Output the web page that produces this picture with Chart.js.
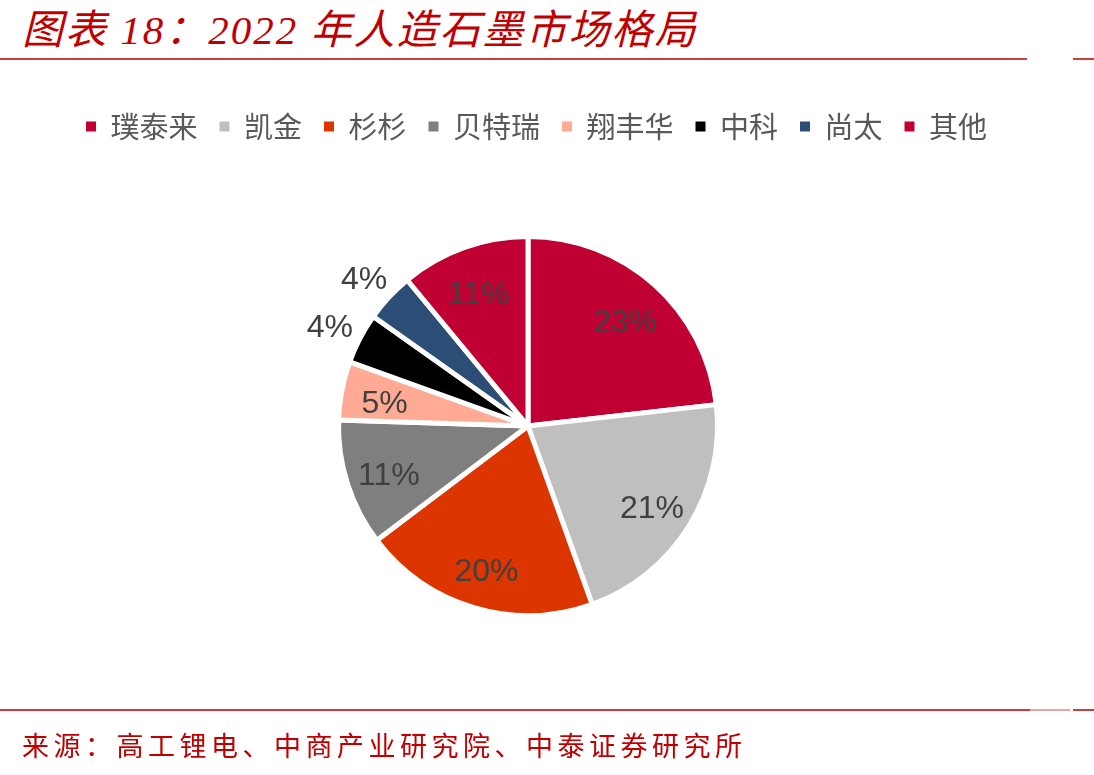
<!DOCTYPE html>
<html>
<head>
<meta charset="utf-8">
<script src="https://cdn.jsdelivr.net/npm/chart.js@4/dist/chart.umd.min.js"></script>
<style>
  body { margin: 0; background: #fff; }
  #page { position: relative; width: 1094px; height: 775px; overflow: hidden; }
  #title {
    position: absolute; left: 22px; top: 5px;
    font-family: "Liberation Serif", "Noto Sans CJK SC", serif;
    font-style: italic; font-size: 41px; line-height: 50px; letter-spacing: 2px;
    color: #C00000; white-space: nowrap;
  }
  #source {
    position: absolute; left: 22px; top: 727px;
    font-family: "Noto Sans CJK SC", sans-serif;
    font-size: 27px; line-height: 36px; letter-spacing: 4.5px;
    color: #C00000; white-space: nowrap;
  }
  .rule { position: absolute; height: 2px; background: #C8403F; }
  #chartBox { position: absolute; left: 0; top: 0; width: 1094px; height: 775px; }
</style>
</head>
<body>
<div id="page">
  <div id="title">图表 18：2022 年人造石墨市场格局</div>
  <div class="rule" style="left:0;top:58px;width:1027px;"></div>
  <div class="rule" style="left:1073px;top:58px;width:21px;"></div>
  <div id="chartBox"><canvas id="pie"></canvas></div>
  <div class="rule" style="left:0;top:709px;width:1030px;"></div>
  <div class="rule" style="left:1030px;top:709px;width:40px;background:#E8A6A4;"></div>
  <div class="rule" style="left:1073px;top:709px;width:21px;"></div>
  <div id="source">来源：高工锂电、中商产业研究院、中泰证券研究所</div>
</div>
<script>
// 2022 年人造石墨市场份额（%）
const companies = ['璞泰来', '凯金', '杉杉', '贝特瑞', '翔丰华', '中科', '尚太', '其他'];
const shares = [23.2, 21.3, 20.2, 10.8, 5.0, 4.3, 4.2, 11.0];
const colors = ['#C00032', '#BFBFBF', '#DC3500', '#7F7F7F', '#FFAA95', '#000000', '#2C4D75', '#C00032'];

// 饼图的位置
const PIE_CX = 528;
const PIE_CY = 426;
const PIE_SIZE = 384;

const placePie = {
    id: 'placePie',
    afterLayout(chart) {
        const a = chart.chartArea;
        a.left = PIE_CX - PIE_SIZE / 2;
        a.right = PIE_CX + PIE_SIZE / 2;
        a.top = PIE_CY - PIE_SIZE / 2;
        a.bottom = PIE_CY + PIE_SIZE / 2;
        a.width = PIE_SIZE;
        a.height = PIE_SIZE;
    }
};

// 百分比标签
const pctLabels = {
    id: 'pctLabels',
    afterDatasetsDraw(chart) {
        const ctx = chart.ctx;
        const meta = chart.getDatasetMeta(0);
        ctx.save();
        ctx.font = '32px "Liberation Sans", Arial, sans-serif';
        ctx.fillStyle = '#404040';
        ctx.textAlign = 'center';
        ctx.textBaseline = 'middle';
        meta.data.forEach((arc, i) => {
            const p = arc.getProps(['x', 'y', 'startAngle', 'endAngle', 'outerRadius'], true);
            const mid = (p.startAngle + p.endAngle) / 2;
            const outside = shares[i] < 4.5;
            const r = outside ? p.outerRadius + 34 : p.outerRadius * 0.77;
            const dy = outside ? 6 : 6;
            ctx.fillText(Math.round(shares[i]) + '%', p.x + Math.cos(mid) * r, p.y + Math.sin(mid) * r + dy);
        });
        ctx.restore();
    }
};

new Chart(document.getElementById('pie'), {
    type: 'pie',
    data: {
        labels: companies,
        datasets: [{
            data: shares,
            backgroundColor: colors,
            borderColor: '#ffffff',
            borderWidth: 5
        }]
    },
    options: {
        responsive: true,
        maintainAspectRatio: false,
        animation: false,
        layout: { padding: { top: 90, left: 0, right: 21, bottom: 0 } },
        plugins: {
            legend: {
                position: 'top',
                labels: {
                    boxWidth: 10,
                    boxHeight: 10,
                    padding: 22,
                    color: '#595959',
                    font: { family: '"Noto Sans CJK SC", sans-serif', size: 29 },
                    generateLabels(chart) {
                        const items = Chart.overrides.pie.plugins.legend.labels.generateLabels(chart);
                        items.forEach(item => { item.lineWidth = 0; });
                        return items;
                    }
                }
            },
            tooltip: { enabled: false }
        }
    },
    plugins: [placePie, pctLabels]
});
</script>
</body>
</html>
